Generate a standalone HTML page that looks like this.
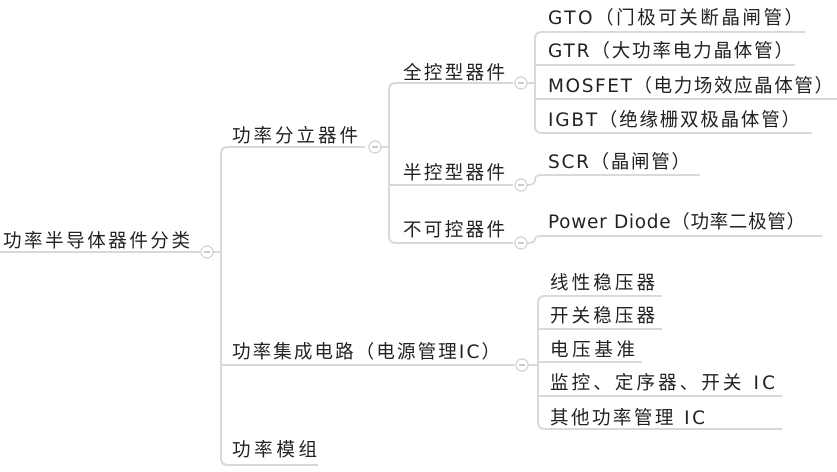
<!DOCTYPE html>
<html><head><meta charset="utf-8"><style>
html,body{margin:0;padding:0;background:#fff;width:837px;height:472px;overflow:hidden}
svg text{font-family:"DejaVu Sans","Noto Sans CJK SC",sans-serif;font-size:18.5px;fill:#222}
</style></head><body>
<svg width="837" height="472" viewBox="0 0 837 472" xmlns="http://www.w3.org/2000/svg">
<g fill="none" stroke="#d9d9d9" stroke-width="2">
<path d="M0 252H200"/>
<path d="M213 252H221"/>
<path d="M365 147H228Q221 147 221 154V458Q221 465 228 465H318"/>
<path d="M221 365H515"/>
<path d="M381 147H389"/>
<path d="M396 83Q389 83 389 90V236Q389 243 396 243H513"/>
<path d="M389 185H513"/>
<path d="M396 83H513"/>
<path d="M527 83H535"/>
<path d="M805 32H542Q535 32 535 39V126Q535 133 542 133H812"/>
<path d="M535 65H795"/>
<path d="M535 99H837"/>
<path d="M527 185Q535 185 535 180Q535 175 542 175H700"/>
<path d="M527 243Q535 243 535 239Q535 236 542 236H822"/>
<path d="M528 365H538"/>
<path d="M662 296H545Q538 296 538 303V422Q538 429 545 429H782"/>
<path d="M538 329H662"/>
<path d="M538 362H642"/>
<path d="M538 396H782"/>
</g>
<g fill="#fff" stroke="#cfcfcf" stroke-width="1.2">
<circle cx="207" cy="252" r="6"/>
<circle cx="375" cy="147" r="6"/>
<circle cx="521" cy="83" r="6"/>
<circle cx="521" cy="185" r="6"/>
<circle cx="521" cy="243" r="6"/>
<circle cx="522" cy="365" r="6"/>
</g>
<g stroke="#999" stroke-width="1">
<path d="M204 252H210M372 147H378M518 83H524M518 185H524M518 243H524M519 365H525"/>
</g>
<text x="3" y="247" textLength="187" lengthAdjust="spacing">功率半导体器件分类</text>
<text x="232" y="142" textLength="126" lengthAdjust="spacing">功率分立器件</text>
<text x="403" y="79" textLength="102" lengthAdjust="spacing">全控型器件</text>
<text x="403" y="179" textLength="102" lengthAdjust="spacing">半控型器件</text>
<text x="403" y="236" textLength="102" lengthAdjust="spacing">不可控器件</text>
<text x="548" y="24" textLength="255" lengthAdjust="spacing">GTO（门极可关断晶闸管）</text>
<text x="548" y="57" textLength="245" lengthAdjust="spacing">GTR（大功率电力晶体管）</text>
<text x="548" y="92" textLength="285" lengthAdjust="spacing">MOSFET（电力场效应晶体管）</text>
<text x="548" y="126" textLength="252" lengthAdjust="spacing">IGBT（绝缘栅双极晶体管）</text>
<text x="548" y="168" textLength="142" lengthAdjust="spacing">SCR（晶闸管）</text>
<text x="548" y="228" textLength="257" lengthAdjust="spacing">Power Diode（功率二极管）</text>
<text x="232" y="358" textLength="268" lengthAdjust="spacing">功率集成电路（电源管理IC）</text>
<text x="550" y="289" textLength="105" lengthAdjust="spacing">线性稳压器</text>
<text x="550" y="322" textLength="105" lengthAdjust="spacing">开关稳压器</text>
<text x="550" y="356" textLength="85" lengthAdjust="spacing">电压基准</text>
<text x="550" y="389" textLength="225" lengthAdjust="spacing">监控、定序器、开关 IC</text>
<text x="550" y="424" textLength="155" lengthAdjust="spacing">其他功率管理 IC</text>
<text x="232" y="456" textLength="85" lengthAdjust="spacing">功率模组</text>
</svg>
</body></html>
